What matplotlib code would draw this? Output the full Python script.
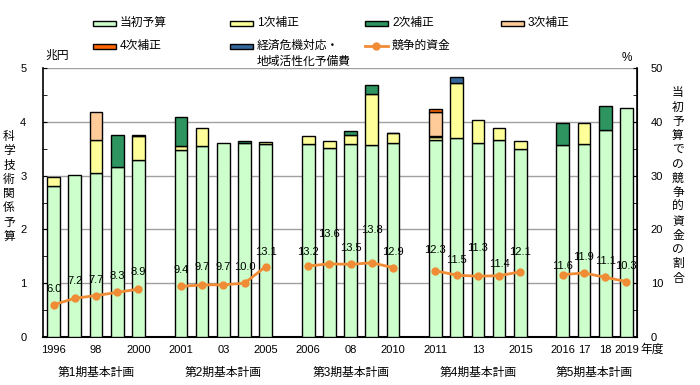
import matplotlib
matplotlib.use("Agg")
import matplotlib.pyplot as plt
from matplotlib.patches import Rectangle
from matplotlib.lines import Line2D
from matplotlib.transforms import blended_transform_factory
import numpy as np

plt.rcParams['font.family'] = ['Liberation Sans', 'Noto Sans CJK JP']

# data (兆円)
years = list(range(1996, 2020))
initial = [2.81, 3.01, 3.04, 3.16, 3.29,
           3.48, 3.55, 3.60, 3.60, 3.58,
           3.58, 3.52, 3.58, 3.57, 3.60,
           3.66, 3.70, 3.61, 3.66, 3.49,
           3.57, 3.59, 3.85, 4.25]
sup1 = [0.16, 0, 0.62, 0, 0.45,
        0.07, 0.33, 0, 0, 0.04,
        0.15, 0.12, 0.17, 0.95, 0.19,
        0.05, 1.02, 0.43, 0.22, 0.16,
        0, 0.38, 0, 0]
sup2 = [0, 0, 0, 0.60, 0.02,
        0.54, 0, 0, 0.04, 0,
        0, 0, 0.08, 0.16, 0.01,
        0.03, 0, 0, 0, 0,
        0.40, 0, 0.44, 0]
sup3 = [0, 0, 0.52, 0, 0,
        0, 0, 0, 0, 0,
        0, 0, 0, 0, 0,
        0.45, 0, 0, 0, 0,
        0, 0, 0, 0]
sup4 = [0] * 15 + [0.05] + [0] * 8
econ = [0] * 16 + [0.12] + [0] * 7
# 競争的資金の割合 (%)
comp = [6.0, 7.2, 7.7, 8.3, 8.9,
        9.4, 9.7, 9.7, 10.0, 13.1,
        13.2, 13.6, 13.5, 13.8, 12.9,
        12.3, 11.5, 11.3, 11.4, 12.1,
        11.6, 11.9, 11.1, 10.3]
tick_years = [1996, 1998, 2000, 2001, 2003, 2005, 2006, 2008, 2010,
              2011, 2013, 2015, 2016, 2017, 2018, 2019]
tick_text = ['1996', '98', '2000', '2001', '03', '2005', '2006', '08', '2010',
             '2011', '13', '2015', '2016', '17', '18', '2019']
plans = ['第1期基本計画', '第2期基本計画', '第3期基本計画', '第4期基本計画', '第5期基本計画']
plan_years = [(1996, 2000), (2001, 2005), (2006, 2010), (2011, 2015), (2016, 2019)]

# slot positions: one empty slot between plan periods
def slot(y):
    gap = sum(1 for a, b in plan_years if y > b)
    return (y - 1996) + gap

x = np.array([slot(y) for y in years])

fig = plt.figure(figsize=(7, 3.85), dpi=100)
ax = fig.add_axes([43 / 700, 48 / 385, 594 / 700, 269 / 385])

layers = [initial, sup1, sup2, sup3, sup4, econ]
colors = ['#CCFFCC', '#FFFF99', '#2E9460', '#FFCC99', '#FF6600', '#336699']
names = ['当初予算', '1次補正', '2次補正', '3次補正', '4次補正', '経済危機対応・\n地域活性化予備費']
bottom = np.zeros(len(years))
for vals, c in zip(layers, colors):
    v = np.array(vals)
    mask = v > 0
    ax.bar(x[mask], v[mask], 0.6, bottom=bottom[mask], color=c,
           edgecolor='black', linewidth=1.0, zorder=3)
    bottom = bottom + v

ax.set_xlim(-0.5, 27.5)
ax.set_ylim(0, 5)
ax.set_yticks(range(6))
ax.set_yticks(np.arange(0.5, 5, 1), minor=True)
ax.tick_params(axis='y', which='both', direction='in', labelsize=8, pad=12, length=3)
ax.set_xticks([slot(y) for y in tick_years])
ax.set_xticklabels(tick_text)
ax.tick_params(axis='x', length=0, labelsize=8, pad=6)
for yl in [1, 2, 3, 4, 5]:
    ax.axhline(yl, color='#A0A0A0', linewidth=1, zorder=1)
ax.spines['top'].set_visible(False)
ax.spines['bottom'].set_linewidth(1.5)
ax.spines['left'].set_linewidth(1.2)

ax2 = ax.twinx()
ax2.set_ylim(0, 50)
ax2.set_yticks(range(0, 51, 10))
ax2.set_yticks(range(5, 50, 10), minor=True)
ax2.tick_params(axis='y', which='both', direction='in', labelsize=8, pad=10, length=3)
ax2.spines['top'].set_visible(False)
ax2.spines['right'].set_linewidth(1.2)
ax2.spines['left'].set_visible(False)
ax2.spines['bottom'].set_visible(False)

# competitive fund line, one segment per plan period
line_c = '#F08C35'
for a, b in plan_years:
    idx = [i for i, y in enumerate(years) if a <= y <= b]
    ax2.plot(x[idx], [comp[i] for i in idx], color=line_c, linewidth=2,
             marker='o', markersize=5, zorder=4)
offs = [16, 17, 16, 16, 17, 16, 18, 18, 16, 15, 14, 30, 16, 33, 16,
        21, 15, 28, 12, 20, 9, 16, 16, 16]
for xi, v, o in zip(x, comp, offs):
    ax2.annotate(f'{v:.1f}', (xi, v), xytext=(0, o), textcoords='offset pixels',
                 ha='center', va='center', fontsize=8, zorder=5)

# labels
tr = blended_transform_factory(ax.transData, fig.transFigure)
for name, (a, b) in zip(plans, plan_years):
    ax.text((slot(a) + slot(b)) / 2, 1 - 373 / 385, name, transform=tr,
            ha='center', va='center', fontsize=8.5)
fig.text(640 / 700, 1 - 350 / 385, '年度', ha='left', va='center', fontsize=8.5)
fig.text(45 / 700, 1 - 56 / 385, '兆円', ha='left', va='center', fontsize=8.5)
fig.text(622 / 700, 1 - 58 / 385, '%', ha='left', va='center', fontsize=8.5)
fig.text(9 / 700, 1 - 187 / 385, '\n'.join('科学技術関係予算'), ha='center',
         va='center', fontsize=8.5, linespacing=1.25)
fig.text(678 / 700, 1 - 186 / 385, '\n'.join('当初予算での競争的資金の割合'), ha='center',
         va='center', fontsize=8.5, linespacing=1.25)

# legend drawn by hand
leg_x = [93, 230, 365, 501]
leg_y = [23, 46]
for i, (name, c) in enumerate(zip(names, colors)):
    px = leg_x[i % 4]
    py = leg_y[i // 4]
    fig.patches.append(Rectangle((px / 700, 1 - (py + 2.5) / 385), 23 / 700, 5 / 385,
                                 transform=fig.transFigure, facecolor=c,
                                 edgecolor='black', linewidth=1))
    lines = name.split('\n')
    for k, t in enumerate(lines):
        fig.text((px + 27) / 700, 1 - (py + k * 16) / 385, t, ha='left', va='center',
                 fontsize=8.5)
px = leg_x[2]
fig.lines.append(Line2D([px / 700, (px + 23) / 700], [1 - 46 / 385] * 2,
                        transform=fig.transFigure, color=line_c, linewidth=2,
                        marker='o', markevery=[0], markersize=0))
fig.lines.append(Line2D([(px + 11.5) / 700], [1 - 46 / 385], transform=fig.transFigure,
                        color=line_c, marker='o', markersize=5))
fig.text((px + 27) / 700, 1 - 46 / 385, '競争的資金', ha='left', va='center', fontsize=8.5)

fig.savefig('out.png', dpi=100)
